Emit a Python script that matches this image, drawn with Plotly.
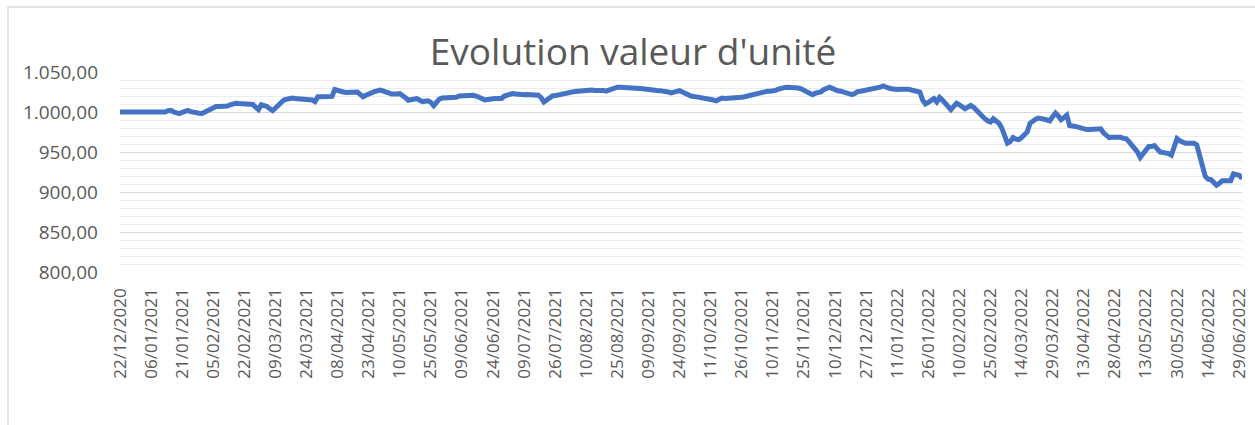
import pandas as pd
import plotly.graph_objects as go

title_text = "Evolution valeur d'unité"
start_date = "2020-12-22"

# daily unit values (business days)
values = [
    1000.0, 1000.0, 1000.0, 1000.0, 1000.0, 1000.0, 999.8, 999.8, 999.8, 999.8, 999.8, 999.8, 999.8, 999.8, 999.8, 999.8, 1000.0,
    1001.5, 1002.0,
    1000.0, 998.5, 998.0,
    999.5, 1001.0, 1002.0,
    1000.5, 999.5, 999.0, 998.5, 998.2,
    1000.0, 1003.0, 1005.0, 1006.5, 1007.0,
    1007.0, 1006.8, 1007.0, 1007.5, 1009.0, 1010.5,
    1011.0, 1010.5, 1010.0, 1010.0, 1009.8, 1009.5,
    1009.5, 1006.0, 1003.0, 1009.0, 1008.0, 1007.0, 1004.0,
    1001.7, 1005.0, 1009.0, 1012.0, 1015.0,
    1016.0, 1017.0, 1017.5, 1017.0, 1016.5, 1016.0,
    1016.0, 1015.5, 1016.0, 1015.0, 1013.0,
    1019.0, 1019.0, 1019.0, 1019.0, 1019.0, 1019.5,
    1028.0, 1026.5, 1026.0, 1025.0, 1024.5, 1024.5,
    1024.0, 1024.5, 1025.0, 1022.0, 1019.0,
    1021.0, 1023.0, 1024.0, 1025.5, 1026.5, 1027.5, 1026.5,
    1026.0, 1024.0, 1022.5, 1021.7, 1022.5, 1023.0,
    1021.0, 1018.0, 1014.6, 1015.5, 1016.5, 1016.7,
    1015.0, 1013.0, 1013.5, 1014.0, 1012.0, 1008.0,
    1012.0, 1016.0, 1017.5, 1017.5, 1017.0, 1017.5, 1017.5, 1018.5,
    1020.0, 1020.5, 1020.5, 1021.0, 1021.0, 1021.0, 1020.0, 1019.0,
    1017.0, 1015.0, 1016.0, 1016.7, 1016.5, 1017.0, 1017.0, 1017.0,
    1020.0, 1021.5, 1022.5, 1023.0, 1022.5, 1022.0,
    1021.0, 1021.5, 1022.0, 1022.0, 1022.0, 1021.5, 1021.0, 1018.0,
    1012.5, 1015.0, 1018.0, 1020.0, 1020.5, 1021.5,
    1022.5, 1023.5, 1024.0, 1024.5, 1025.0, 1025.5, 1026.0, 1026.5,
    1026.7, 1027.0, 1027.5, 1027.5, 1027.0, 1027.5, 1028.0, 1027.0,
    1026.0, 1027.5, 1029.5, 1031.0, 1031.0, 1031.0,
    1031.0, 1031.0, 1031.0, 1031.0, 1030.5, 1030.0, 1029.5, 1029.0,
    1028.3, 1028.0, 1027.5, 1027.0, 1027.0, 1026.7, 1026.5, 1026.0,
    1025.0, 1024.0, 1025.0, 1026.5, 1026.7, 1025.0, 1023.0,
    1021.0, 1020.0, 1019.5, 1019.0, 1019.0, 1018.5, 1018.0,
    1017.5, 1016.5, 1015.0, 1014.0, 1016.0, 1017.5, 1017.0,
    1017.0, 1017.0, 1017.0, 1017.5, 1018.0, 1018.5, 1019.0,
    1020.0, 1021.0, 1022.0, 1023.0, 1024.0, 1025.0, 1026.0,
    1026.0, 1026.0, 1026.0, 1027.0, 1028.5, 1030.0, 1030.5,
    1031.0, 1031.0, 1031.0, 1030.5, 1030.0, 1029.0,
    1027.0, 1024.0, 1022.0, 1021.7, 1023.5, 1024.0, 1025.0,
    1028.0, 1030.0, 1031.0, 1029.5, 1027.5, 1026.5, 1026.0,
    1025.0, 1024.0, 1023.0, 1021.7, 1023.0, 1025.5, 1026.0,
    1026.5, 1027.0, 1027.5, 1028.3, 1029.0,
    1029.0, 1031.0, 1032.5, 1032.0, 1030.0, 1029.0,
    1028.0, 1028.0, 1028.5, 1029.0, 1029.0, 1028.5, 1027.5,
    1027.0, 1026.0, 1025.0, 1015.0,
    1010.0, 1012.0, 1014.0, 1016.7, 1012.5, 1018.3, 1015.0,
    1011.0, 1007.0, 1003.0, 1007.0, 1011.0, 1009.0, 1006.0,
    1004.0, 1006.0, 1008.3, 1006.0, 1002.0,
    997.5, 995.0, 991.7, 989.0, 987.5,
    991.7, 989.0, 986.0, 980.0, 972.0, 961.0,
    963.0, 968.0, 966.0, 965.4, 968.0, 971.0,
    975.0, 986.0, 989.0, 991.0, 992.5,
    992.5, 991.0, 990.0, 989.0, 994.0, 998.7,
    995.0, 990.4, 993.0, 996.0, 983.0,
    983.0, 982.0, 981.0, 980.0, 978.0,
    978.0, 978.0, 978.0, 978.5, 979.0, 979.0, 974.0,
    970.0, 968.0, 968.5, 969.0, 969.0, 968.5, 967.0,
    966.7, 963.0, 959.0, 955.0, 950.0, 943.3, 947.5,
    951.0, 957.0, 957.0, 958.0, 954.0, 950.0,
    949.5, 949.0, 948.0, 946.0, 955.0, 966.7, 964.0,
    962.0, 961.0, 961.0, 961.0, 961.0, 959.0, 944.6,
    935.0, 919.6, 916.0, 915.4, 912.0, 908.4, 911.0,
    914.0, 914.0, 914.0, 914.0, 922.5, 922.0, 921.0, 916.7,
]

tick_labels = [
    "22/12/2020", "06/01/2021", "21/01/2021", "05/02/2021", "22/02/2021", "09/03/2021",
    "24/03/2021", "08/04/2021", "23/04/2021", "10/05/2021", "25/05/2021", "09/06/2021",
    "24/06/2021", "09/07/2021", "26/07/2021", "10/08/2021", "25/08/2021", "09/09/2021",
    "24/09/2021", "11/10/2021", "26/10/2021", "10/11/2021", "25/11/2021", "10/12/2021",
    "27/12/2021", "11/01/2022", "26/01/2022", "10/02/2022", "25/02/2022", "14/03/2022",
    "29/03/2022", "13/04/2022", "28/04/2022", "13/05/2022", "30/05/2022", "14/06/2022",
    "29/06/2022",
]

dates = [d.strftime("%d/%m/%Y") for d in pd.bdate_range(start_date, periods=len(values))]

W, H = 1255, 425
L, R, T, B = 120, 13, 72, 153
pw, ph = W - L - R, H - T - B

fig = go.Figure()
fig.add_trace(go.Scatter(
    x=dates, y=values, mode="lines",
    line=dict(color="#4472C4", width=5),
    hoverinfo="x+y",
))

fig.update_layout(
    width=W, height=H,
    margin=dict(l=L, r=R, t=T, b=B, pad=0, autoexpand=False),
    paper_bgcolor="white", plot_bgcolor="white",
    separators=",.",
    showlegend=False,
    title=dict(
        text=title_text, x=633 / W, xanchor="center",
        y=1 - 52 / H, yanchor="middle", yref="container", xref="container",
        font=dict(family="Open Sans", size=37, color="#595959"),
        automargin=False,
    ),
    font=dict(family="Open Sans", color="#595959"),
)

fig.update_xaxes(
    type="category", range=[0, len(values) - 1],
    tickmode="array", tickvals=tick_labels, ticktext=tick_labels,
    tickangle=-90, tickfont=dict(size=17, color="#595959"),
    showgrid=False, showline=False, ticks="", zeroline=False,
    ticklabelstandoff=12, automargin=False,
)
fig.update_yaxes(
    range=[800, 1050], dtick=50, tick0=800, tickformat=",.2f",
    tickfont=dict(size=19, color="#595959"),
    showgrid=True, gridcolor="#d9d9d9", gridwidth=1.3,
    minor=dict(dtick=10, showgrid=True, gridcolor="#ececec", gridwidth=1.2),
    zeroline=False, showline=False, ticks="",
    ticklabelstandoff=21, automargin=False,
)

# chart area border
fig.add_shape(
    type="rect", xref="paper", yref="paper",
    x0=(8 - L) / pw, x1=(W + 5 - L) / pw,
    y0=-(H + 5 - T - ph) / ph, y1=1 + (T - 7) / ph,
    line=dict(color="#d9d9d9", width=1.3), fillcolor="rgba(0,0,0,0)", layer="below",
)

fig.write_html(
    "out.html",
    config={"displayModeBar": False},
    post_script="document.body.style.margin='0px'; document.body.style.overflow='hidden';",
)
